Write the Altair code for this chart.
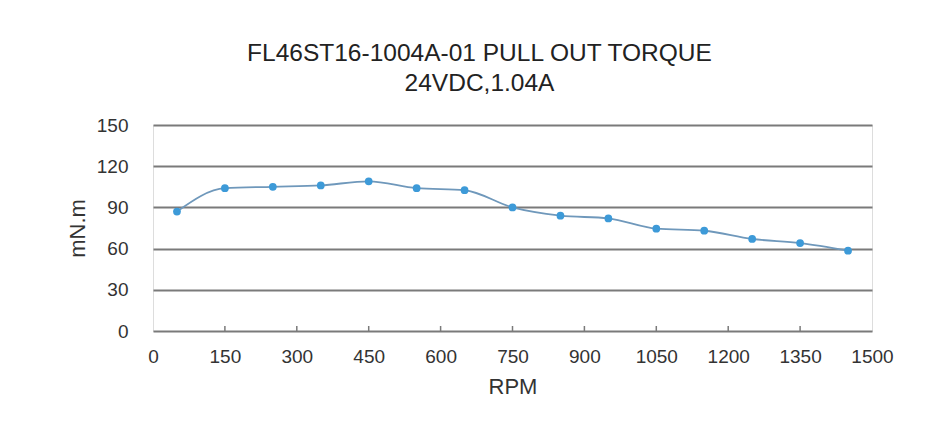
import altair as alt
import pandas as pd

rpm = [50, 150, 250, 350, 450, 550, 650, 750, 850, 950, 1050, 1150, 1250, 1350, 1450]
torque = [87, 104, 105, 106, 109, 104, 102.5, 90, 84, 82, 74.5, 73, 67, 64, 58.5]
x_ticks = [0, 150, 300, 450, 600, 750, 900, 1050, 1200, 1350, 1500]
y_ticks = [0, 30, 60, 90, 120, 150]
inner_ticks = [150, 300, 450, 600, 750, 900, 1050, 1200, 1350]

df = pd.DataFrame({"rpm": rpm, "torque": torque})
tick_df = pd.DataFrame({"t": inner_ticks})

W, H = 719, 206
PADL, PADT = 145, 117
TOTW, TOTH = 916, 420

FONT = "Liberation Sans"
GRID = "#7a7a7a"

xs = alt.Scale(domain=[0, 1500], nice=False, zero=False)
ys = alt.Scale(domain=[0, 150], nice=False)

x_enc = alt.X("rpm:Q", scale=xs, axis=alt.Axis(
    values=x_ticks, format="d", title="RPM", grid=False, ticks=False, domain=False,
    labelPadding=16, labelFontSize=19, labelColor="#333333", labelFont=FONT,
    titleFontSize=22, titleFont=FONT, titleFontWeight="normal", titleColor="#333333",
    titleY=62, titleBaseline="alphabetic", labelFlush=False))
y_enc = alt.Y("torque:Q", scale=ys, axis=alt.Axis(
    values=y_ticks, format="d", title="mN.m", grid=True, gridColor=GRID, gridWidth=1.8,
    gridOpacity=1, ticks=False, domain=False, labelPadding=25,
    labelFontSize=19, labelColor="#333333", labelFont=FONT,
    titleFontSize=22, titleFont=FONT, titleFontWeight="normal", titleColor="#333333",
    titleX=-76, titleY=H / 2, titleBaseline="middle", titleAngle=-90))

line = alt.Chart(df).mark_line(color="#6f98bb", strokeWidth=1.8, interpolate="monotone").encode(
    x=x_enc, y=y_enc)
pts = alt.Chart(df).mark_circle(color="#3d9ad8", size=60, opacity=1).encode(
    x="rpm:Q", y="torque:Q")
ticks = alt.Chart(tick_df).mark_rule(color=GRID, strokeWidth=1.5).encode(
    x=alt.X("t:Q", scale=xs), y=alt.value(H), y2=alt.value(H - 5))

chart = alt.layer(line, pts, ticks).properties(
    width=W, height=H,
    autosize=alt.AutoSizeParams(type="none"),
    padding={"left": PADL, "top": PADT, "right": TOTW - PADL - W, "bottom": TOTH - PADT - H},
    title=alt.TitleParams(
        text=["FL46ST16-1004A-01 PULL OUT TORQUE", "24VDC,1.04A"],
        fontSize=24.5, font=FONT, fontWeight="normal", color="#222222",
        lineHeight=30, anchor="middle", dx=-33, offset=20),
).configure_view(stroke=GRID, strokeWidth=1.8).configure(background="white")

chart.save("out.html", embed_options={"renderer": "svg", "actions": False})
